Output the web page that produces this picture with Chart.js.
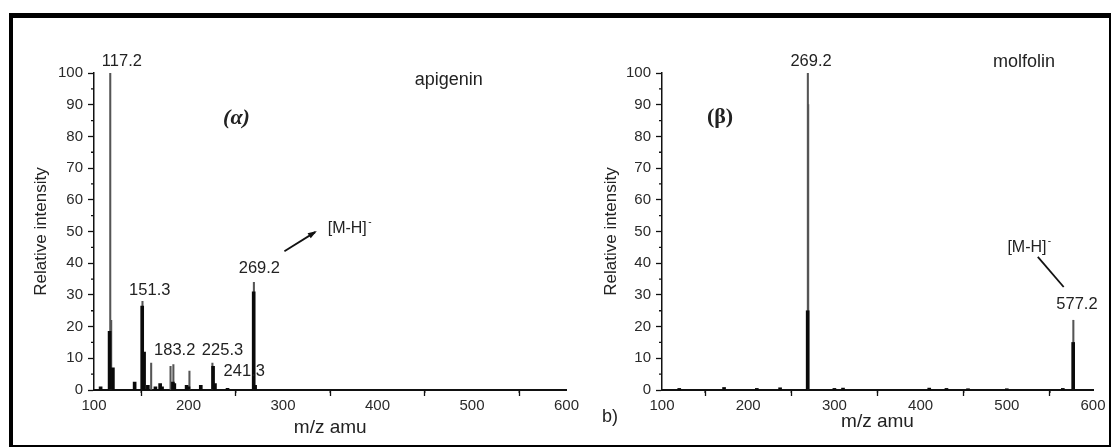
<!DOCTYPE html>
<html>
<head>
<meta charset="utf-8">
<script src="https://cdn.jsdelivr.net/npm/chart.js@4.4.1/dist/chart.umd.min.js"></script>
<style>
  body { margin: 0; background: #fff; }
  #wrap { position: relative; width: 1116px; height: 447px; overflow: hidden; }
  #frame { position: absolute; left: 9px; top: 13px; width: 1096px; height: 427px;
           border-top: 5px solid #000; border-left: 4px solid #000; border-right: 2px solid #000; border-bottom: 2px solid #000; }
  canvas { position: absolute; top: 0; }
  #leftChart { left: 0; }
  #rightChart { left: 580px; }
</style>
</head>
<body>
<div id="wrap">
  <div id="frame"></div>
  <canvas id="leftChart" width="580" height="447"></canvas>
  <canvas id="rightChart" width="536" height="447"></canvas>
</div>
<script>
/* spectrum data  ******************************************************* */
// (a) apigenin - thin tall sticks
var apiThinMz  = [117.2, 118.2, 151.3, 160.5, 181.0, 184.0, 201.0, 225.3, 269.2];
var apiThinInt = [100,   22,    28,    8.5,   7.5,   8,     6,     8.5,   34];
// (a) apigenin - thick sticks
var apiThickMz  = [107, 116.5, 120, 143, 151, 153, 157, 165, 170, 172, 183.5, 185, 198, 200, 213, 226, 228, 241.3, 269, 270.5];
var apiThickInt = [1,   18.5,  7,   2.5, 26.5, 12, 1.5, 1,   2,   1,   2.5,   2,   1.5, 1,   1.5, 7.5, 2,   0.5,   31,  1.5];

// (b) molfolin - thin tall sticks
var molThinMz  = [269.2, 269.6, 577.2];
var molThinInt = [100,   90,    22];
// (b) molfolin - thick sticks
var molThickMz  = [120, 172, 210, 237, 269, 300, 310, 410, 430, 455, 500, 565, 577];
var molThickInt = [0.5, 0.8, 0.5, 0.7, 25,  0.5, 0.6, 0.6, 0.5, 0.4, 0.4, 0.5, 15];

// axes
var xTicks = [100, 200, 300, 400, 500, 600];
var yTicks = [0, 10, 20, 30, 40, 50, 60, 70, 80, 90, 100];

var sans = '"Liberation Sans", Arial, sans-serif';

function toPoints(mz, val){
	return mz.map(function(m, i){ return {x: m, y: val[i]}; });
}

/* decorations: minor ticks, peak labels, arrows  *********************** */
var decor = {
	id: 'decor',
	afterDraw: function(chart, args, opts){
		var ctx = chart.ctx, x = chart.scales.x, y = chart.scales.y;
		ctx.save();
		// minor ticks
		ctx.strokeStyle = '#111';
		ctx.lineWidth = 1.3;
		ctx.beginPath();
		for (var i = 0; i < xTicks.length - 1; i++){
			var px = x.getPixelForValue((xTicks[i] + xTicks[i+1]) / 2);
			ctx.moveTo(px, y.bottom); ctx.lineTo(px, y.bottom + 3);
		}
		for (var j = 0; j < yTicks.length - 1; j++){
			var py = y.getPixelForValue((yTicks[j] + yTicks[j+1]) / 2);
			ctx.moveTo(x.left, py); ctx.lineTo(x.left - 3, py);
		}
		ctx.stroke();
		// text labels
		ctx.textAlign = 'center';
		ctx.textBaseline = 'middle';
		opts.labels.forEach(function(l){
			ctx.font = l.font || '16.5px ' + sans;
			ctx.fillStyle = '#222';
			var lx = x.getPixelForValue(l.x), ly = y.getPixelForValue(l.y);
			ctx.fillText(l.text, lx, ly);
			if (l.sup){
				var w = ctx.measureText(l.text).width;
				ctx.font = '10px ' + sans;
				ctx.fillText('-', lx + w / 2 + 3, ly - 6);
			}
		});
		// pointer lines
		ctx.strokeStyle = '#111';
		ctx.fillStyle = '#111';
		ctx.lineWidth = 1.8;
		opts.pointers.forEach(function(p){
			var x0 = x.getPixelForValue(p.from[0]), y0 = y.getPixelForValue(p.from[1]);
			var x1 = x.getPixelForValue(p.to[0]), y1 = y.getPixelForValue(p.to[1]);
			ctx.beginPath(); ctx.moveTo(x0, y0); ctx.lineTo(x1, y1); ctx.stroke();
			if (p.head){
				var a = Math.atan2(y1 - y0, x1 - x0);
				ctx.beginPath();
				ctx.moveTo(x1 + 2 * Math.cos(a), y1 + 2 * Math.sin(a));
				ctx.lineTo(x1 - 7 * Math.cos(a) + 3 * Math.sin(a), y1 - 7 * Math.sin(a) - 3 * Math.cos(a));
				ctx.lineTo(x1 - 7 * Math.cos(a) - 3 * Math.sin(a), y1 - 7 * Math.sin(a) + 3 * Math.cos(a));
				ctx.closePath(); ctx.fill();
			}
		});
		// free text (panel letter)
		if (opts.corner){
			ctx.font = '18px ' + sans;
			ctx.fillStyle = '#222';
			ctx.fillText(opts.corner.text, x.left + opts.corner.dx, y.bottom + opts.corner.dy);
		}
		ctx.restore();
	}
};

function $id(id){ return document.getElementById(id); }

function makeChart(id, thin, thick, layout, labels, pointers, corner){
	var ctx = $id(id).getContext('2d');
	return new Chart(ctx, {
		type: 'bar',
		data: {
			datasets: [
				{ data: thick, backgroundColor: '#0a0a0a', barThickness: 3, grouped: false, order: 1 },
				{ data: thin, backgroundColor: '#555', barThickness: 1.4, grouped: false, order: 2 }
			]
		},
		options: {
			responsive: false,
			animation: false,
			events: [],
			layout: { padding: { left: layout.left, right: layout.right, top: 73, bottom: 0 } },
			plugins: {
				legend: { display: false },
				tooltip: { enabled: false },
				decor: { labels: labels, pointers: pointers, corner: corner }
			},
			scales: {
				x: {
					type: 'linear', min: 100, max: 600, offset: false,
					afterFit: function(s){ s.height = 57; },
					afterBuildTicks: function(s){ s.ticks = xTicks.map(function(v){ return {value: v}; }); },
					grid: { drawOnChartArea: false, drawTicks: true, tickLength: 6, tickColor: '#111', tickWidth: 1.3 },
					border: { color: '#111', width: 2 },
					ticks: { color: '#2a2a2a', padding: 1, maxRotation: 0, font: { family: sans, size: 15 } },
					title: { display: true, text: 'm/z amu', color: '#222', font: { family: sans, size: 19 }, padding: { top: 0, bottom: layout.xTitle } }
				},
				y: {
					min: 0, max: 100,
					afterFit: function(s){ s.width = layout.yWidth; },
					afterBuildTicks: function(s){ s.ticks = yTicks.map(function(v){ return {value: v}; }); },
					grid: { drawOnChartArea: false, drawTicks: true, tickLength: 6, tickColor: '#111', tickWidth: 1.3 },
					border: { color: '#111', width: 1.5 },
					ticks: { color: '#2a2a2a', padding: 5, font: { family: sans, size: 15 } },
					title: { display: true, text: 'Relative intensity', color: '#222', font: { family: sans, size: 17 }, padding: { top: layout.yTitle, bottom: 0 } }
				}
			}
		},
		plugins: [decor]
	});
}

/* (a) apigenin */
makeChart('leftChart', toPoints(apiThinMz, apiThinInt), toPoints(apiThickMz, apiThickInt),
	{ left: 20, right: 12, yWidth: 74, yTitle: 10.8, xTitle: 7.6 },
	[
		{ text: '117.2', x: 129.5, y: 103.5 },
		{ text: '(\u03b1)', x: 250.8, y: 85.8, font: 'bold italic 22px "Liberation Serif", serif' },
		{ text: 'apigenin', x: 475.5, y: 97.8, font: '18px ' + sans },
		{ text: '[M-H]', x: 368, y: 51, sup: true, font: '16px ' + sans },
		{ text: '269.2', x: 275, y: 38.2 },
		{ text: '151.3', x: 159, y: 31.5 },
		{ text: '183.2', x: 185.4, y: 12.6 },
		{ text: '225.3', x: 236, y: 12.6 },
		{ text: '241.3', x: 259, y: 5.7 }
	],
	[ { from: [301.5, 43.8], to: [334, 49.8], head: true } ],
	null);

/* (b) molfolin */
makeChart('rightChart', toPoints(molThinMz, molThinInt), toPoints(molThickMz, molThickInt),
	{ left: 10, right: 23, yWidth: 72, yTitle: 11.6, xTitle: 13.6 },
	[
		{ text: '269.2', x: 272.9, y: 103.5 },
		{ text: 'molfolin', x: 520, y: 103.5, font: '18px ' + sans },
		{ text: '(\u03b2)', x: 167.3, y: 86, font: 'bold 22px "Liberation Serif", serif' },
		{ text: '[M-H]', x: 523.4, y: 45, sup: true, font: '16px ' + sans },
		{ text: '577.2', x: 581.4, y: 27 }
	],
	[ { from: [536, 42], to: [566, 32.5], head: false } ],
	{ text: 'b)', dx: -52, dy: 27 });
</script>
</body>
</html>
